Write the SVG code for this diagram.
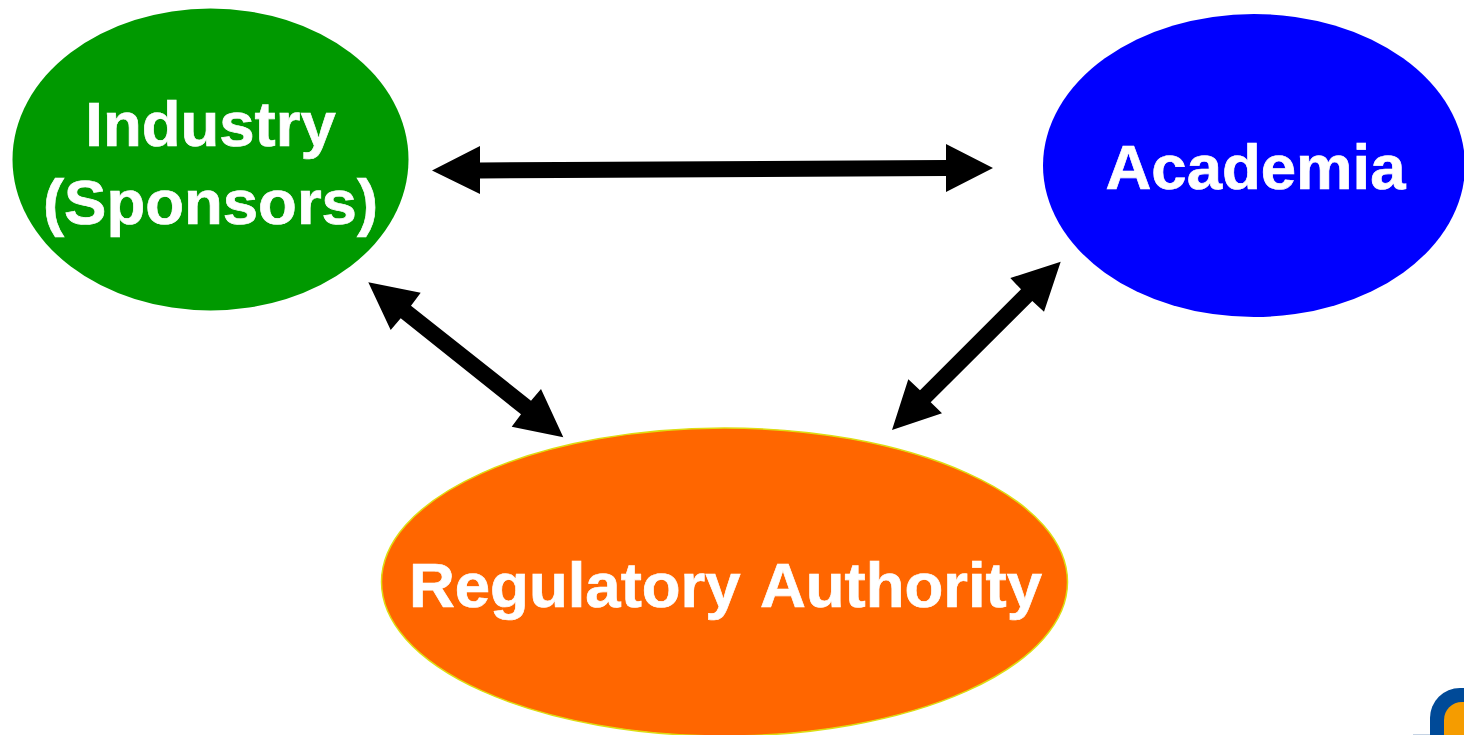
<svg xmlns="http://www.w3.org/2000/svg" width="1464" height="735" viewBox="0 0 1464 735">
<style>
.label{font-family:"Liberation Sans",Arial,sans-serif;font-weight:700;font-size:63.5px;fill:#fff;stroke:#fff;stroke-width:.7px;text-anchor:middle}
.arrow{fill:#000}
</style>
<rect width="1464" height="735" fill="#fff"/>
<g id="node-industry">
<ellipse cx="210.500" cy="159.500" rx="198" ry="151" fill="#009900"/>
<text class="label" x="210.500" y="146">Industry</text>
<text class="label" x="210.500" y="224">(Sponsors)</text>
</g>
<g id="node-academia">
<ellipse cx="1254" cy="165.500" rx="211" ry="151.500" fill="#0000ff"/>
<text class="label" x="1255.500" y="189">Academia</text>
</g>
<g id="node-regulatory">
<ellipse cx="724.500" cy="582" rx="343" ry="154" fill="#ff6600" stroke="#dddd11" stroke-width="1.500"/>
<text class="label" x="725.500" y="607" word-spacing="4">Regulatory Authority</text>
</g>
<g id="connectors">
<polygon class="arrow" points="432,170.500 480,146 480,162.500 946,160 946,144 993,168 946,192 946,176 480,178.500 480,194"/>
<polygon class="arrow" points="368.300,282.300 420.700,292.700 411,305.700 531,400.700 541,389 563.300,437.300 511.700,426.700 521,414.300 400.700,318.300 390.700,330"/>
<polygon class="arrow" points="1060.700,261.700 1044,311.700 1032.300,301 930.700,402.300 942,413.300 892,430 908.300,379.300 920,390.300 1021,289.300 1010.300,278"/>
</g>
<g id="logo-corner">
<rect x="1430" y="688" width="80" height="80" rx="30" fill="#004a98"/>
<rect x="1444" y="702" width="60" height="60" rx="18" fill="#f59c00"/>
<rect x="1413" y="734" width="17" height="1" fill="#c5d3e4"/>
</g>
</svg>
